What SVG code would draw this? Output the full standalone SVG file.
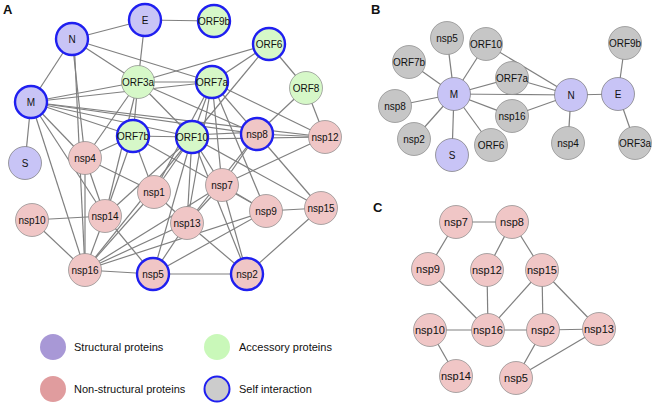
<svg xmlns="http://www.w3.org/2000/svg" width="654" height="403" viewBox="0 0 654 403">
<style>
text{font-family:"Liberation Sans",Arial,sans-serif;fill:#111;}
.lbl{font-size:10px;text-anchor:middle;}
.lc{font-size:11px;text-anchor:middle;}
.pl{font-size:13px;font-weight:bold;}
.lg{font-size:11px;}
.e line{stroke:#808080;stroke-width:1.2;}
.st{fill:#c8c4f6;stroke:#777;stroke-width:0.7;}
.ac{fill:#d6f8c8;stroke:#888;stroke-width:0.7;}
.ns{fill:#f0c6c6;stroke:#888;stroke-width:0.7;}
.gr{fill:#c6c6c6;stroke:#888;stroke-width:0.7;}
.si{stroke:#1f1ff0;stroke-width:2.4;}
</style>
<rect width="654" height="403" fill="#fff"/>
<text class="pl" x="3" y="14">A</text>
<text class="pl" x="371" y="14">B</text>
<text class="pl" x="373" y="212">C</text>

<g id="edges-A" class="e">
<line x1="72" y1="39" x2="145" y2="20"/>
<line x1="145" y1="20" x2="214" y2="21"/>
<line x1="145" y1="20" x2="138" y2="82"/>
<line x1="72" y1="39" x2="31" y2="102"/>
<line x1="72" y1="39" x2="138" y2="82"/>
<line x1="72" y1="39" x2="212" y2="82"/>
<line x1="72" y1="39" x2="85" y2="158"/>
<line x1="74" y1="39" x2="85" y2="270"/>
<line x1="269" y1="44" x2="138" y2="82"/>
<line x1="269" y1="44" x2="212" y2="82"/>
<line x1="269" y1="44" x2="306" y2="88"/>
<line x1="269" y1="44" x2="192" y2="137"/>
<line x1="306" y1="88" x2="257" y2="134"/>
<line x1="306" y1="88" x2="325" y2="137"/>
<line x1="31" y1="102" x2="138" y2="82"/>
<line x1="31" y1="102" x2="212" y2="82"/>
<line x1="31" y1="102" x2="133" y2="136"/>
<line x1="31" y1="102" x2="192" y2="137"/>
<line x1="31" y1="102" x2="257" y2="134"/>
<line x1="31" y1="102" x2="325" y2="137"/>
<line x1="31" y1="102" x2="25" y2="163"/>
<line x1="31" y1="102" x2="85" y2="158"/>
<line x1="31" y1="102" x2="85" y2="270"/>
<line x1="31" y1="102" x2="105" y2="216"/>
<line x1="138" y1="82" x2="212" y2="82"/>
<line x1="138" y1="82" x2="133" y2="136"/>
<line x1="138" y1="82" x2="192" y2="137"/>
<line x1="138" y1="82" x2="85" y2="158"/>
<line x1="138" y1="82" x2="105" y2="216"/>
<line x1="138" y1="82" x2="257" y2="134"/>
<line x1="212" y1="82" x2="192" y2="137"/>
<line x1="212" y1="82" x2="325" y2="137"/>
<line x1="212" y1="82" x2="222" y2="185"/>
<line x1="212" y1="82" x2="266" y2="211"/>
<line x1="212" y1="82" x2="187" y2="223"/>
<line x1="212" y1="82" x2="257" y2="134"/>
<line x1="212" y1="82" x2="154" y2="192"/>
<line x1="133" y1="136" x2="192" y2="137"/>
<line x1="133" y1="136" x2="85" y2="158"/>
<line x1="133" y1="136" x2="154" y2="192"/>
<line x1="133" y1="136" x2="266" y2="211"/>
<line x1="133" y1="136" x2="105" y2="216"/>
<line x1="192" y1="135" x2="257" y2="132"/>
<line x1="192" y1="139" x2="325" y2="137"/>
<line x1="192" y1="137" x2="154" y2="192"/>
<line x1="192" y1="137" x2="187" y2="223"/>
<line x1="192" y1="137" x2="105" y2="216"/>
<line x1="192" y1="137" x2="85" y2="270"/>
<line x1="192" y1="137" x2="153" y2="274"/>
<line x1="192" y1="137" x2="222" y2="185"/>
<line x1="192" y1="137" x2="247" y2="274"/>
<line x1="192" y1="137" x2="321" y2="208"/>
<line x1="257" y1="134" x2="325" y2="137"/>
<line x1="257" y1="134" x2="222" y2="185"/>
<line x1="257" y1="134" x2="321" y2="208"/>
<line x1="257" y1="134" x2="187" y2="223"/>
<line x1="325" y1="137" x2="222" y2="185"/>
<line x1="321" y1="208" x2="247" y2="274"/>
<line x1="321" y1="208" x2="266" y2="211"/>
<line x1="222" y1="185" x2="187" y2="223"/>
<line x1="222" y1="185" x2="266" y2="211"/>
<line x1="222" y1="185" x2="247" y2="274"/>
<line x1="222" y1="185" x2="85" y2="270"/>
<line x1="187" y1="223" x2="247" y2="274"/>
<line x1="187" y1="223" x2="153" y2="274"/>
<line x1="187" y1="223" x2="85" y2="270"/>
<line x1="187" y1="223" x2="154" y2="192"/>
<line x1="85" y1="158" x2="154" y2="192"/>
<line x1="85" y1="158" x2="105" y2="216"/>
<line x1="85" y1="158" x2="85" y2="270"/>
<line x1="105" y1="216" x2="32" y2="220"/>
<line x1="105" y1="216" x2="85" y2="270"/>
<line x1="105" y1="216" x2="153" y2="274"/>
<line x1="32" y1="220" x2="85" y2="270"/>
<line x1="153" y1="274" x2="247" y2="274"/>
<line x1="153" y1="274" x2="85" y2="270"/>
<line x1="266" y1="211" x2="85" y2="270"/>
<line x1="266" y1="211" x2="153" y2="274"/>
<line x1="154" y1="192" x2="85" y2="270"/>
</g>

<g id="A-N"><circle class="st si" cx="72" cy="39" r="16"/><text class="lbl" x="72" y="42.5">N</text></g>
<g id="A-E"><circle class="st si" cx="145" cy="20" r="16"/><text class="lbl" x="145" y="23.5">E</text></g>
<g id="A-ORF9b"><circle class="ac si" cx="214" cy="21" r="16"/><text class="lbl" x="214" y="24.5">ORF9b</text></g>
<g id="A-ORF6"><circle class="ac si" cx="269" cy="44" r="16"/><text class="lbl" x="269" y="47.5">ORF6</text></g>
<g id="A-ORF3a"><circle class="ac" cx="138" cy="82" r="16.5"/><text class="lbl" x="138" y="85.5">ORF3a</text></g>
<g id="A-ORF7a"><circle class="ac si" cx="212" cy="82" r="16"/><text class="lbl" x="212" y="85.5">ORF7a</text></g>
<g id="A-ORF8"><circle class="ac" cx="306" cy="88" r="16.5"/><text class="lbl" x="306" y="91.5">ORF8</text></g>
<g id="A-M"><circle class="st si" cx="31" cy="102" r="16"/><text class="lbl" x="31" y="105.5">M</text></g>
<g id="A-S"><circle class="st" cx="25" cy="163" r="16.5"/><text class="lbl" x="25" y="166.5">S</text></g>
<g id="A-ORF7b"><circle class="ac si" cx="133" cy="136" r="16"/><text class="lbl" x="133" y="139.5">ORF7b</text></g>
<g id="A-ORF10"><circle class="ac si" cx="192" cy="137" r="16"/><text class="lbl" x="192" y="140.5">ORF10</text></g>
<g id="A-nsp8"><circle class="ns si" cx="257" cy="134" r="16"/><text class="lbl" x="257" y="137.5">nsp8</text></g>
<g id="A-nsp12"><circle class="ns" cx="325" cy="137" r="16.5"/><text class="lbl" x="325" y="140.5">nsp12</text></g>
<g id="A-nsp4"><circle class="ns" cx="85" cy="158" r="16.5"/><text class="lbl" x="85" y="161.5">nsp4</text></g>
<g id="A-nsp1"><circle class="ns" cx="154" cy="192" r="16.5"/><text class="lbl" x="154" y="195.5">nsp1</text></g>
<g id="A-nsp7"><circle class="ns" cx="222" cy="185" r="16.5"/><text class="lbl" x="222" y="188.5">nsp7</text></g>
<g id="A-nsp14"><circle class="ns" cx="105" cy="216" r="16.5"/><text class="lbl" x="105" y="219.5">nsp14</text></g>
<g id="A-nsp10"><circle class="ns" cx="32" cy="220" r="16.5"/><text class="lbl" x="32" y="223.5">nsp10</text></g>
<g id="A-nsp13"><circle class="ns" cx="187" cy="223" r="16.5"/><text class="lbl" x="187" y="226.5">nsp13</text></g>
<g id="A-nsp9"><circle class="ns" cx="266" cy="211" r="16.5"/><text class="lbl" x="266" y="214.5">nsp9</text></g>
<g id="A-nsp15"><circle class="ns" cx="321" cy="208" r="16.5"/><text class="lbl" x="321" y="211.5">nsp15</text></g>
<g id="A-nsp16"><circle class="ns" cx="85" cy="270" r="16.5"/><text class="lbl" x="85" y="273.5">nsp16</text></g>
<g id="A-nsp5"><circle class="ns si" cx="153" cy="274" r="16"/><text class="lbl" x="153" y="277.5">nsp5</text></g>
<g id="A-nsp2"><circle class="ns si" cx="247" cy="274" r="16"/><text class="lbl" x="247" y="277.5">nsp2</text></g>

<g id="legend">
<circle cx="53" cy="347" r="13" fill="#a898d6"/><text class="lg" x="74" y="351">Structural proteins</text>
<circle cx="217" cy="347" r="13" fill="#c9f8b9"/><text class="lg" x="239" y="351">Accessory proteins</text>
<circle cx="53" cy="389" r="13" fill="#e09c9e"/><text class="lg" x="74" y="393">Non-structural proteins</text>
<circle cx="217" cy="389" r="12.5" fill="#cccccc" stroke="#1f1ff0" stroke-width="2"/><text class="lg" x="239" y="393">Self interaction</text>
</g>

<g id="edges-B" class="e">
<line x1="454" y1="94" x2="447" y2="38"/>
<line x1="454" y1="94" x2="486" y2="44"/>
<line x1="454" y1="94" x2="409" y2="62"/>
<line x1="454" y1="94" x2="512" y2="78"/>
<line x1="454" y1="94" x2="395" y2="106"/>
<line x1="454" y1="94" x2="512" y2="116"/>
<line x1="454" y1="94" x2="414" y2="139"/>
<line x1="454" y1="94" x2="452" y2="155"/>
<line x1="454" y1="94" x2="491" y2="145"/>
<line x1="454" y1="94" x2="571" y2="95"/>
<line x1="486" y1="44" x2="571" y2="95"/>
<line x1="512" y1="78" x2="571" y2="95"/>
<line x1="512" y1="116" x2="571" y2="95"/>
<line x1="571" y1="95" x2="568" y2="143"/>
<line x1="571" y1="95" x2="618" y2="94"/>
<line x1="618" y1="94" x2="625" y2="43"/>
<line x1="618" y1="94" x2="635" y2="143"/>
</g>
<g id="B-nsp5"><circle class="gr" cx="447" cy="38" r="16.5"/><text class="lbl" x="447" y="41.5">nsp5</text></g>
<g id="B-ORF10"><circle class="gr" cx="486" cy="44" r="16.5"/><text class="lbl" x="486" y="47.5">ORF10</text></g>
<g id="B-ORF7b"><circle class="gr" cx="409" cy="62" r="16.5"/><text class="lbl" x="409" y="65.5">ORF7b</text></g>
<g id="B-ORF7a"><circle class="gr" cx="512" cy="78" r="16.5"/><text class="lbl" x="512" y="81.5">ORF7a</text></g>
<g id="B-nsp8"><circle class="gr" cx="395" cy="106" r="16.5"/><text class="lbl" x="395" y="109.5">nsp8</text></g>
<g id="B-nsp16"><circle class="gr" cx="512" cy="116" r="16.5"/><text class="lbl" x="512" y="119.5">nsp16</text></g>
<g id="B-nsp2"><circle class="gr" cx="414" cy="139" r="16.5"/><text class="lbl" x="414" y="142.5">nsp2</text></g>
<g id="B-ORF6"><circle class="gr" cx="491" cy="145" r="16.5"/><text class="lbl" x="491" y="148.5">ORF6</text></g>
<g id="B-S"><circle class="st" cx="452" cy="155" r="16.5"/><text class="lbl" x="452" y="158.5">S</text></g>
<g id="B-M"><circle class="st" cx="454" cy="94" r="16.5"/><text class="lbl" x="454" y="97.5">M</text></g>
<g id="B-N"><circle class="st" cx="571" cy="95" r="16.5"/><text class="lbl" x="571" y="98.5">N</text></g>
<g id="B-nsp4"><circle class="gr" cx="568" cy="143" r="16.5"/><text class="lbl" x="568" y="146.5">nsp4</text></g>
<g id="B-E"><circle class="st" cx="618" cy="94" r="16.5"/><text class="lbl" x="618" y="97.5">E</text></g>
<g id="B-ORF9b"><circle class="gr" cx="625" cy="43" r="16.5"/><text class="lbl" x="625" y="46.5">ORF9b</text></g>
<g id="B-ORF3a"><circle class="gr" cx="635" cy="143" r="16.5"/><text class="lbl" x="635" y="146.5">ORF3a</text></g>

<g id="edges-C" class="e">
<line x1="456" y1="222" x2="512" y2="222"/>
<line x1="456" y1="222" x2="428" y2="269"/>
<line x1="512" y1="222" x2="487" y2="270"/>
<line x1="512" y1="222" x2="542" y2="270"/>
<line x1="428" y1="269" x2="488" y2="330"/>
<line x1="487" y1="270" x2="488" y2="330"/>
<line x1="542" y1="270" x2="488" y2="330"/>
<line x1="542" y1="270" x2="543" y2="330"/>
<line x1="542" y1="270" x2="599" y2="329"/>
<line x1="430" y1="330" x2="488" y2="330"/>
<line x1="488" y1="330" x2="543" y2="330"/>
<line x1="543" y1="330" x2="599" y2="329"/>
<line x1="430" y1="330" x2="456" y2="376"/>
<line x1="543" y1="330" x2="516" y2="378"/>
<line x1="599" y1="329" x2="516" y2="378"/>
</g>
<g id="C-nsp7"><circle class="ns" cx="456" cy="222" r="16.5"/><text class="lc" x="456" y="226">nsp7</text></g>
<g id="C-nsp8"><circle class="ns" cx="512" cy="222" r="16.5"/><text class="lc" x="512" y="226">nsp8</text></g>
<g id="C-nsp9"><circle class="ns" cx="428" cy="269" r="16.5"/><text class="lc" x="428" y="273">nsp9</text></g>
<g id="C-nsp12"><circle class="ns" cx="487" cy="270" r="16.5"/><text class="lc" x="487" y="274">nsp12</text></g>
<g id="C-nsp15"><circle class="ns" cx="542" cy="270" r="16.5"/><text class="lc" x="542" y="274">nsp15</text></g>
<g id="C-nsp10"><circle class="ns" cx="430" cy="330" r="16.5"/><text class="lc" x="430" y="334">nsp10</text></g>
<g id="C-nsp16"><circle class="ns" cx="488" cy="330" r="16.5"/><text class="lc" x="488" y="334">nsp16</text></g>
<g id="C-nsp2"><circle class="ns" cx="543" cy="330" r="16.5"/><text class="lc" x="543" y="334">nsp2</text></g>
<g id="C-nsp13"><circle class="ns" cx="599" cy="329" r="16.5"/><text class="lc" x="599" y="333">nsp13</text></g>
<g id="C-nsp14"><circle class="ns" cx="456" cy="376" r="16.5"/><text class="lc" x="456" y="380">nsp14</text></g>
<g id="C-nsp5"><circle class="ns" cx="516" cy="378" r="16.5"/><text class="lc" x="516" y="382">nsp5</text></g>
</svg>
